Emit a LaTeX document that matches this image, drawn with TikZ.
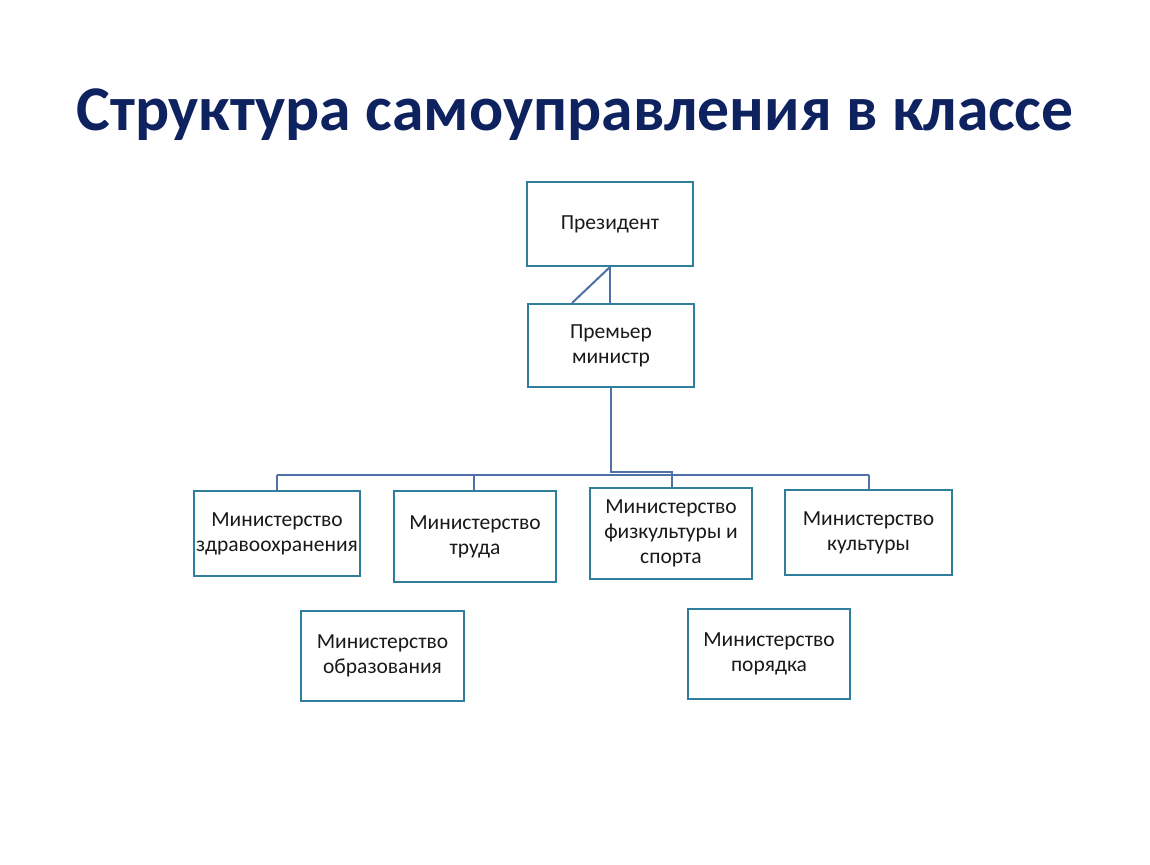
\documentclass[tikz,border=0pt]{standalone}
\usepackage{fontspec}
\setmainfont{Carlito}
\definecolor{titleblue}{HTML}{0E2260}
\definecolor{boxedge}{HTML}{2F7F9C}
\definecolor{linkblue}{HTML}{5070A8}
\begin{document}
\begin{tikzpicture}[x=1pt,y=-1pt,
  orgbox/.style={draw=boxedge,line width=2pt,fill=white,align=center,inner sep=0pt,
    font=\fontsize{21.5}{25}\selectfont,text=black!90},
  link/.style={draw=linkblue,line width=2pt}]
\useasboundingbox (0,0) rectangle (1150,864);
\fill[white] (0,0) rectangle (1150,864);
\node[anchor=base,text=titleblue,font=\fontsize{63.7}{70}\selectfont\bfseries] (title) at (575,130) {Структура самоуправления в классе};

\node[orgbox,minimum width=166,minimum height=84] (pres) at (610,224) {Президент};
\node[orgbox,minimum width=166,minimum height=83] (prem) at (611,345.5) {Премьер\\министр};

\node[orgbox,minimum width=166,minimum height=85] (m1) at (277,533.5) {Министерство\\здравоохранения};
\node[orgbox,minimum width=162,minimum height=91] (m2) at (475,536.5) {Министерство\\труда};
\node[orgbox,minimum width=162,minimum height=91] (m3) at (671,533.5) {Министерство\\физкультуры и\\спорта};
\node[orgbox,minimum width=167,minimum height=85] (m4) at (868.5,532.5) {Министерство\\культуры};
\node[orgbox,minimum width=163,minimum height=90] (m5) at (382.5,656) {Министерство\\образования};
\node[orgbox,minimum width=162,minimum height=90] (m6) at (769,654) {Министерство\\порядка};

% President to Premier
\coordinate (pb) at (pres.south);
\draw[link] (pb) -- (prem.north -| pb);
\draw[link] (pb) -- ([xshift=-39pt]prem.north);

% bus
\coordinate (bus1) at (277,475);
\coordinate (bus4) at (869,475);
\draw[link,line width=2.5pt] (prem.south) -- (611,472) -- (672,472) -- (m3.north -| 672,0);
\draw[link] (bus1) -- (bus4);
\draw[link] (bus1) -- (m1.north);
\draw[link] (474,475) -- (m2.north -| 474,0);
\draw[link] (bus4) -- (m4.north -| bus4);
\end{tikzpicture}
\end{document}
